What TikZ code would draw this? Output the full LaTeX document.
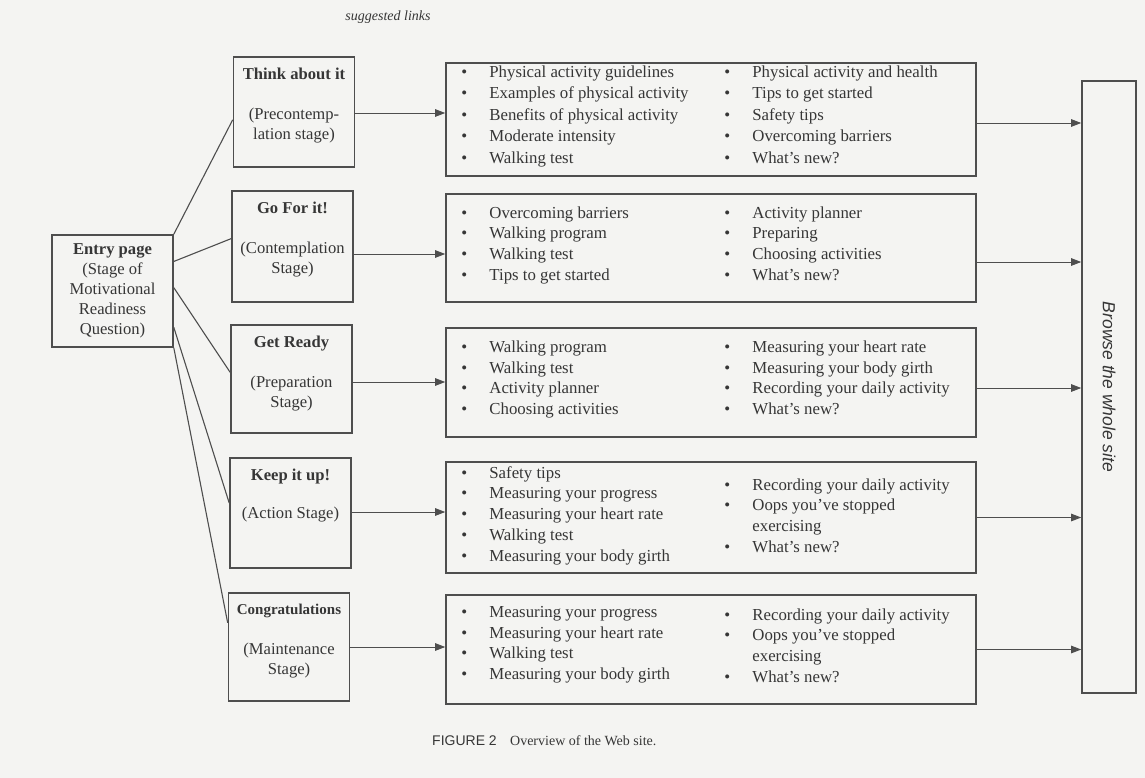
\documentclass[tikz,border=0pt]{standalone}
\usepackage{fontspec}
\setmainfont{Liberation Serif}
\setsansfont{Liberation Sans}
\usetikzlibrary{positioning,calc,arrows.meta}
\definecolor{ink}{HTML}{363636}
\definecolor{edge}{HTML}{4E4E4E}
\definecolor{paper}{HTML}{F4F4F2}
\newcommand{\lk}[1]{\makebox[28pt][l]{\textbullet}#1}
\newcommand{\lkc}[1]{\makebox[28pt][l]{}#1}
\begin{document}
\begin{tikzpicture}[x=1pt, y=-1pt, every node/.style={text=ink, inner sep=0pt},
	box/.style={rectangle, draw=edge, line width=1.6pt},
	stage/.style={box, minimum width=121pt, minimum height=110pt},
	links/.style={box, minimum width=530pt, minimum height=108pt},
	col/.style={align=left, font=\fontsize{16.8}{20.7}\selectfont},
	stxt/.style={align=center, font=\fontsize{16.6}{20}\selectfont},
	tie/.style={draw=edge, line width=1.1pt},
	arr/.style={draw=edge, line width=0.9pt, -{Triangle[length=10pt,width=7.5pt]}}]
		\fill[paper] (0,0) rectangle (1145,778);
		\useasboundingbox (0,0) rectangle (1145,778);

		\node (sugg) at (388,17) [font=\itshape\fontsize{14}{14}\selectfont] {suggested links};

		\node (entry) at (112.5,291) [box, minimum width=121pt, minimum height=112pt, stxt] {\textbf{Entry page}\\(Stage of\\Motivational\\Readiness\\Question)};

		\node (think) at (294,112) [stage] {};
		\node (thinkt) [stxt, below=12pt of think.north] {\textbf{Think about it}\\[19.5pt](Precontemp-\\lation stage)};
		\node (gofor) at (292.5,246.5) [stage, minimum height=111pt] {};
		\node (gofort) [stxt, below=12pt of gofor.north] {\textbf{Go For it!}\\[19.5pt](Contemplation\\Stage)};
		\node (ready) at (291.5,379) [stage, minimum height=108pt] {};
		\node (readyt) [stxt, below=12pt of ready.north] {\textbf{Get Ready}\\[19.5pt](Preparation\\Stage)};
		\node (keep) at (290.5,513) [stage] {};
		\node (keept) [stxt, below=12pt of keep.north] {\textbf{Keep it up!}\\[18pt](Action Stage)};
		\node (congr) at (289,647) [stage, minimum height=108pt] {};
		\node (congrt) [stxt, below=12pt of congr.north] {{\fontsize{15}{20}\selectfont\textbf{Congratulations}}\\[19.5pt](Maintenance\\Stage)};

		\node (lk1) at (711,119.5) [links, minimum height=113pt] {};
		\node (lk1a) [col, font=\fontsize{16.8}{21.5}\selectfont, below right=3pt and 16pt of lk1.north west] {\lk{Physical activity guidelines}\\\lk{Examples of physical activity}\\\lk{Benefits of physical activity}\\\lk{Moderate intensity}\\\lk{Walking test}};
		\node (lk1b) [col, font=\fontsize{16.8}{21.5}\selectfont, below right=3pt and 279pt of lk1.north west] {\lk{Physical activity and health}\\\lk{Tips to get started}\\\lk{Safety tips}\\\lk{Overcoming barriers}\\\lk{What's new?}};

		\node (lk2) at (711,248) [links] {};
		\node (lk2a) [col, below right=13pt and 16pt of lk2.north west] {\lk{Overcoming barriers}\\\lk{Walking program}\\\lk{Walking test}\\\lk{Tips to get started}};
		\node (lk2b) [col, below right=13pt and 279pt of lk2.north west] {\lk{Activity planner}\\\lk{Preparing}\\\lk{Choosing activities}\\\lk{What's new?}};

		\node (lk3) at (711,382.5) [links, minimum height=109pt] {};
		\node (lk3a) [col, below right=13.5pt and 16pt of lk3.north west] {\lk{Walking program}\\\lk{Walking test}\\\lk{Activity planner}\\\lk{Choosing activities}};
		\node (lk3b) [col, below right=13.5pt and 279pt of lk3.north west] {\lk{Measuring your heart rate}\\\lk{Measuring your body girth}\\\lk{Recording your daily activity}\\\lk{What's new?}};

		\node (lk4) at (711,517.5) [links, minimum height=111pt] {};
		\node (lk4a) [col, below right=5pt and 16pt of lk4.north west] {\lk{Safety tips}\\\lk{Measuring your progress}\\\lk{Measuring your heart rate}\\\lk{Walking test}\\\lk{Measuring your body girth}};
		\node (lk4b) [col, below right=17pt and 279pt of lk4.north west] {\lk{Recording your daily activity}\\\lk{Oops you've stopped}\\\lkc{exercising}\\\lk{What's new?}};

		\node (lk5) at (711,649.5) [links, minimum height=109pt] {};
		\node (lk5a) [col, below right=12pt and 16pt of lk5.north west] {\lk{Measuring your progress}\\\lk{Measuring your heart rate}\\\lk{Walking test}\\\lk{Measuring your body girth}};
		\node (lk5b) [col, below right=14pt and 279pt of lk5.north west] {\lk{Recording your daily activity}\\\lk{Oops you've stopped}\\\lkc{exercising}\\\lk{What's new?}};

		\node (site) at (1109,387) [box, minimum width=54pt, minimum height=612pt] {};
		\node (sitet) at (site.center) [rotate=-90, font=\sffamily\itshape\fontsize{17.5}{17.5}\selectfont] {Browse the whole site};

		\draw[tie] (entry.north east) to ($(think.north west)!0.57!(think.south west)$);
		\draw[tie] ($(entry.north east)!0.24!(entry.south east)$) to ($(gofor.north west)!0.43!(gofor.south west)$);
		\draw[tie] ($(entry.north east)!0.47!(entry.south east)$) to ($(ready.north west)!0.44!(ready.south west)$);
		\draw[tie] ($(entry.north east)!0.82!(entry.south east)$) to ($(keep.north west)!0.41!(keep.south west)$);
		\draw[tie] (entry.south east) to ($(congr.north west)!0.28!(congr.south west)$);

		\draw[arr] ([yshift=-1pt]think.east) to ([yshift=-1pt]think.east -| lk1.west);
		\draw[arr] ([yshift=-7.5pt]gofor.east) to ([yshift=-7.5pt]gofor.east -| lk2.west);
		\draw[arr] ([yshift=-3pt]ready.east) to ([yshift=-3pt]ready.east -| lk3.west);
		\draw[arr] ([yshift=1pt]keep.east) to ([yshift=1pt]keep.east -| lk4.west);
		\draw[arr] (congr.east) to (congr.east -| lk5.west);

		\draw[arr] ([yshift=-3.5pt]lk1.east) to ([yshift=-3.5pt]lk1.east -| site.west);
		\draw[arr] ([yshift=-14pt]lk2.east) to ([yshift=-14pt]lk2.east -| site.west);
		\draw[arr] ([yshift=-5.5pt]lk3.east) to ([yshift=-5.5pt]lk3.east -| site.west);
		\draw[arr] (lk4.east) to (lk4.east -| site.west);
		\draw[arr] (lk5.east) to (lk5.east -| site.west);

		\node (cap) at (432,741) [anchor=west, font=\sffamily\fontsize{14}{14}\selectfont] {FIGURE 2};
		\node (capt) at ([xshift=13pt]cap.base east) [anchor=base west, font=\fontsize{14}{14}\selectfont] {Overview of the Web site.};
	\end{tikzpicture}
\end{document}
